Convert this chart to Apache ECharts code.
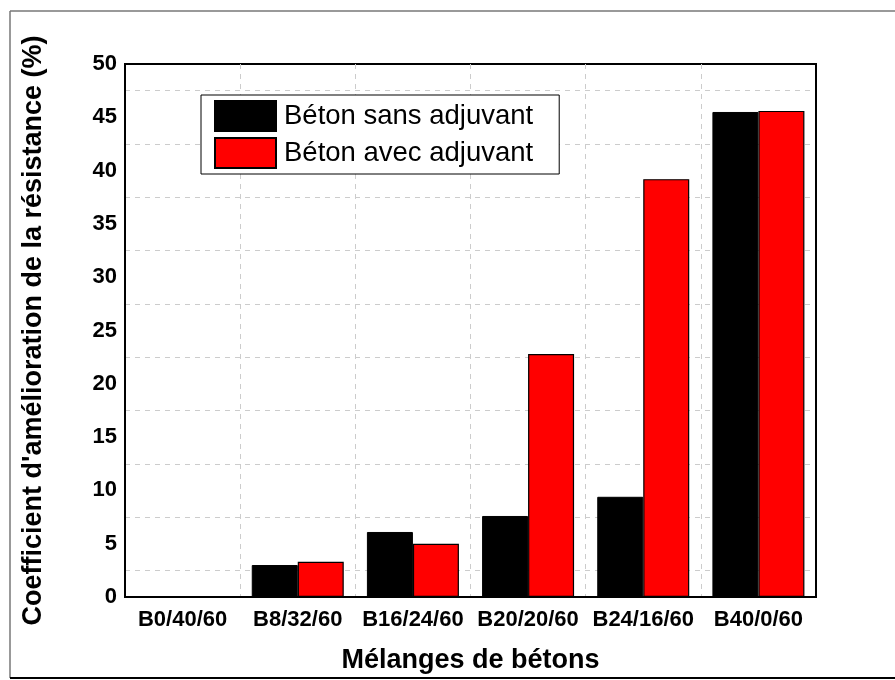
<!DOCTYPE html>
<html>
<head>
<meta charset="utf-8">
<script src="https://cdn.jsdelivr.net/npm/echarts@6/dist/echarts.min.js"></script>
<style>html,body{margin:0;padding:0;background:#fff}#c{width:895px;height:680px}</style>
</head>
<body>
<div id="c"></div>
<script>
var categories = ['B0/40/60', 'B8/32/60', 'B16/24/60', 'B20/20/60', 'B24/16/60', 'B40/0/60'];
var sansAdjuvant = [0, 3.0, 6.1, 7.6, 9.4, 45.5];
var avecAdjuvant = [0, 3.3, 5.0, 22.8, 39.2, 45.6];
var seriesNames = ['Béton sans adjuvant', 'Béton avec adjuvant'];
var yTitle = "Coefficient d'amélioration de la résistance (%)";
var xTitle = 'Mélanges de bétons';

var chart = echarts.init(document.getElementById('c'));
var F = 'Liberation Sans, Arial, sans-serif';
chart.setOption({
  animation: false,
  backgroundColor: '#fff',
  grid: { left: 125, right: 79, top: 64, bottom: 83, show: true, borderColor: '#000', borderWidth: 2, backgroundColor: 'transparent' },
  graphic: [
    { type: 'line', shape: { x1: 10, y1: 11, x2: 895, y2: 11 }, style: { stroke: '#777', lineWidth: 1.5 } },
    { type: 'line', shape: { x1: 10, y1: 11, x2: 10, y2: 678 }, style: { stroke: '#777', lineWidth: 1.5 } },
    { type: 'line', shape: { x1: 10, y1: 678, x2: 895, y2: 678 }, style: { stroke: '#000', lineWidth: 2 } }
  ],
  legend: {
    orient: 'vertical', left: 201, top: 95,
    itemWidth: 61, itemHeight: 30, itemGap: 5,
    icon: 'rect',
    padding: [5, 26, 5, 13],
    borderColor: '#000', borderWidth: 1, backgroundColor: '#fff',
    textStyle: { fontFamily: F, fontSize: 27.5, color: '#000', padding: [0, 0, 0, 3] },
    data: seriesNames
  },
  xAxis: {
    type: 'category', data: categories,
    name: xTitle, nameLocation: 'middle', nameGap: 50,
    nameTextStyle: { fontFamily: F, fontSize: 27, fontWeight: 'bold', color: '#000' },
    axisLine: { lineStyle: { color: '#000', width: 2 } },
    axisTick: { show: false },
    axisLabel: { fontFamily: F, fontSize: 22, fontWeight: 'bold', color: '#000', margin: 12, interval: 0 },
    splitLine: { show: true, lineStyle: { color: '#ccc', type: [5, 5], width: 1 } }
  },
  yAxis: [{
    type: 'value', min: 0, max: 50, interval: 5,
    name: yTitle, nameLocation: 'middle', nameGap: 78,
    nameTextStyle: { fontFamily: F, fontSize: 27, fontWeight: 'bold', color: '#000' },
    axisLine: { show: true, lineStyle: { color: '#000', width: 2 } },
    axisTick: { show: false },
    axisLabel: { fontFamily: F, fontSize: 22, fontWeight: 'bold', color: '#000', margin: 8 },
    splitLine: { show: false },
    minorTick: { show: false, splitNumber: 2 },
    minorSplitLine: { show: true, lineStyle: { color: '#ccc', type: [5, 5], width: 1 } }
  }, {
    type: 'value', min: 0, max: 50, interval: 5, position: 'right',
    axisLine: { show: true, lineStyle: { color: '#000', width: 2 } },
    axisTick: { show: false }, axisLabel: { show: false }, splitLine: { show: false }
  }],
  series: [
    { name: seriesNames[0], type: 'bar', data: sansAdjuvant, barWidth: 46, barGap: '0%',
      itemStyle: { color: '#000', borderColor: '#000', borderWidth: 1 } },
    { name: seriesNames[1], type: 'bar', data: avecAdjuvant, barWidth: 46,
      itemStyle: { color: '#ff0000', borderColor: '#000', borderWidth: 1.2 } }
  ]
});
</script>
</body>
</html>
